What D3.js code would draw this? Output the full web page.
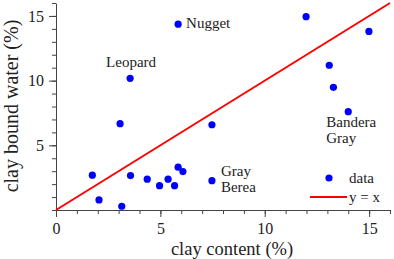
<!DOCTYPE html>
<html>
<head>
<meta charset="utf-8">
<script src="https://cdn.jsdelivr.net/npm/d3@7"></script>
<style>
  html, body { margin: 0; padding: 0; background: #fff; }
  svg { display: block; }
  svg text { font-family: "Liberation Serif", "Times New Roman", Times, "DejaVu Serif", serif; }
</style>
</head>
<body>
<div id="chart"></div>
<script>
// clay content (%) and clay bound water (%) for each sample
const clayContent = [1.74, 2.06, 3.15, 3.57, 4.37, 4.96, 5.37, 5.68, 5.85, 6.08,
                     7.47, 7.47, 3.07, 3.55, 5.85, 11.98, 14.99, 13.09, 13.29, 14.0];
const boundWater  = [2.69, 0.78, 0.29, 2.66, 2.38, 1.88, 2.38, 1.88, 3.31, 2.97,
                     2.27, 6.59, 6.67, 10.18, 14.36, 14.94, 13.8, 11.19, 9.48, 7.6];

const xMajorTicks = [0, 5, 10, 15];
const yMajorTicks = [5, 10, 15];
const axisMax = 16;

// sample names, with the index of the point they belong to
const sampleNames = ["Nugget", "Leopard", "Gray|Berea", "Bandera|Gray"];
const sampleIndex = [14, 13, 10, 19];

const legendNames = ["data", "y = x"];

const W = 394, H = 259;
const margin = { top: 3, right: 4, bottom: 49, left: 56 };

const svg = d3.select("#chart")
  .append("svg")
  .attr("width", W)
  .attr("height", H);

const x = d3.scaleLinear().domain([0, axisMax]).range([margin.left, W - margin.right]);
const y = d3.scaleLinear().domain([0, axisMax]).range([H - margin.bottom, margin.top]);

const axisColor = "#444";

// minor ticks
svg.append("g")
  .attr("transform", `translate(0,${y(0)})`)
  .call(d3.axisBottom(x).tickValues(d3.range(0, axisMax + 1)).tickSize(4).tickSizeOuter(0).tickFormat(""))
  .call(g => g.selectAll("path, line").attr("stroke", axisColor));

svg.append("g")
  .attr("transform", `translate(${x(0)},0)`)
  .call(d3.axisLeft(y).tickValues(d3.range(0, axisMax + 1)).tickSize(4).tickSizeOuter(0).tickFormat(""))
  .call(g => g.selectAll("path, line").attr("stroke", axisColor));

// major ticks + labels
svg.append("g")
  .attr("transform", `translate(0,${y(0)})`)
  .call(d3.axisBottom(x).tickValues(xMajorTicks).tickSize(7).tickSizeOuter(0).tickPadding(6))
  .call(g => g.attr("font-family", null).select(".domain").remove())
  .call(g => g.selectAll("line").attr("stroke", axisColor))
  .call(g => g.selectAll("text")
    .attr("font-size", "16px")
    .attr("fill", "#222"));

svg.append("g")
  .attr("transform", `translate(${x(0)},0)`)
  .call(d3.axisLeft(y).tickValues(yMajorTicks).tickSize(7).tickSizeOuter(0).tickPadding(5))
  .call(g => g.attr("font-family", null).select(".domain").remove())
  .call(g => g.selectAll("line").attr("stroke", axisColor))
  .call(g => g.selectAll("text")
    .attr("font-size", "16px")
    .attr("fill", "#222"));

// axis titles
svg.append("text")
  .attr("x", 232)
  .attr("y", 255)
  .attr("text-anchor", "middle")
  .attr("font-size", "18.5px")
  .attr("fill", "#222")
  .text("clay content (%)");

svg.append("text")
  .attr("transform", `translate(18,106) rotate(-90)`)
  .attr("text-anchor", "middle")
  .attr("font-size", "20px")
  .attr("fill", "#222")
  .text("clay bound water (%)");

// y = x line
svg.append("line")
  .attr("x1", x(0)).attr("y1", y(0))
  .attr("x2", x(axisMax)).attr("y2", y(axisMax))
  .attr("stroke", "#ff0000")
  .attr("stroke-width", 2);

// data points
svg.selectAll(".dot")
  .data(d3.zip(clayContent, boundWater))
  .enter()
  .append("circle")
  .attr("class", "dot")
  .attr("cx", d => x(d[0]))
  .attr("cy", d => y(d[1]))
  .attr("r", 3.6)
  .attr("fill", "#0000ff");

// sample labels, placed relative to their point
const labelOffsets = [
  { dx: 8, dy: 4, anchor: "start" },
  { dx: 1, dy: -11, anchor: "middle" },
  { dx: 9, dy: -5, anchor: "start" },
  { dx: -22, dy: 15, anchor: "start" }
];

sampleNames.forEach((name, i) => {
  const k = sampleIndex[i];
  const off = labelOffsets[i];
  const t = svg.append("text")
    .attr("x", x(clayContent[k]) + off.dx)
    .attr("y", y(boundWater[k]) + off.dy)
    .attr("text-anchor", off.anchor)
    .attr("font-size", "15px")
    .attr("fill", "#222");
  name.split("|").forEach((line, j) => {
    t.append("tspan")
      .attr("x", x(clayContent[k]) + off.dx)
      .attr("dy", j === 0 ? 0 : 16)
      .text(line);
  });
});

// legend
const legend = svg.append("g");
legend.append("circle")
  .attr("cx", 329).attr("cy", 178).attr("r", 3.6)
  .attr("fill", "#0000ff");
legend.append("text")
  .attr("x", 349).attr("y", 183)
  .attr("font-size", "15px").attr("fill", "#222")
  .text(legendNames[0]);
legend.append("line")
  .attr("x1", 310).attr("x2", 347)
  .attr("y1", 197).attr("y2", 197)
  .attr("stroke", "#ff0000").attr("stroke-width", 2);
legend.append("text")
  .attr("x", 349).attr("y", 202)
  .attr("font-size", "15px").attr("fill", "#222")
  .text(legendNames[1]);
</script>
</body>
</html>
